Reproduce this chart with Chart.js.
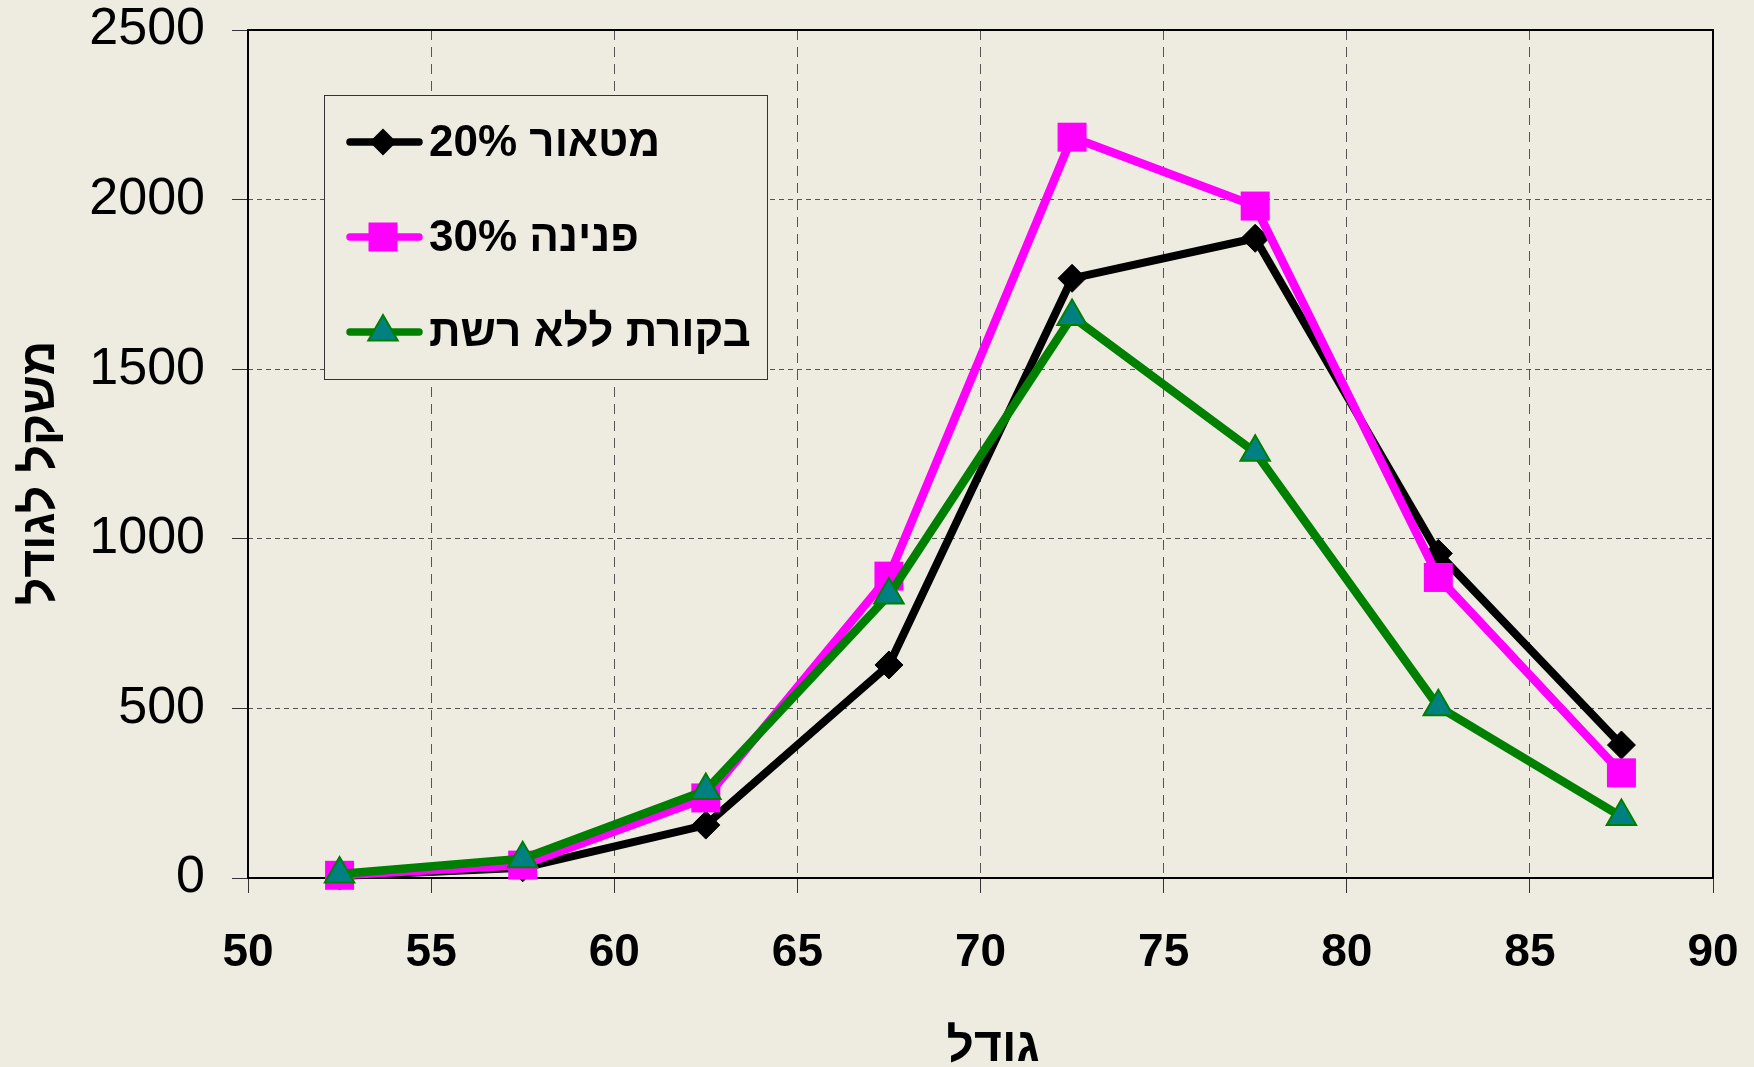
<!DOCTYPE html>
<html>
<head>
<meta charset="utf-8">
<script src="https://cdn.jsdelivr.net/npm/chart.js@4.4.1/dist/chart.umd.min.js"></script>
<style>
  html, body { margin: 0; padding: 0; background: #eeece1; }
  #wrap { width: 1754px; height: 1067px; }
</style>
</head>
<body>
<div id="wrap"><canvas id="sizeChart" width="1754" height="1067"></canvas></div>
<script>
// size classes (x) and weight per size class for each treatment
const sizes = [52.5, 57.5, 62.5, 67.5, 72.5, 77.5, 82.5, 87.5];
const meteor20 = [6, 30, 156, 628, 1768, 1886, 957, 392];
const pnina30 = [8, 38, 236, 890, 2184, 1981, 886, 310];
const controlNoNet = [12, 57, 258, 834, 1655, 1255, 505, 181];
const seriesNames = ["מטאור 20%", "פנינה 30%", "בקורת ללא רשת"];
const xTicks = [50, 55, 60, 65, 70, 75, 80, 85, 90];
const yTicks = [0, 500, 1000, 1500, 2000, 2500];
const xTitle = "גודל";
const yTitle = "משקל לגודל";

const FONT = "'Liberation Sans', Arial, sans-serif";
const BG = "#eeece1";

function toPoints(vals) {
  return sizes.map((x, i) => ({ x: x, y: vals[i] }));
}

function drawMarker(ctx, style, x, y) {
  ctx.save();
  if (style === "diamond") {
    const r = 13.5;
    ctx.fillStyle = "#000";
    ctx.beginPath();
    ctx.moveTo(x, y - r); ctx.lineTo(x + r, y); ctx.lineTo(x, y + r); ctx.lineTo(x - r, y);
    ctx.closePath();
    ctx.fill();
  } else if (style === "square") {
    ctx.fillStyle = "#ff00ff";
    ctx.fillRect(x - 14.5, y - 14.5, 29, 29);
  } else {
    const r = 17;
    ctx.fillStyle = "#008080";
    ctx.strokeStyle = "#008000";
    ctx.lineWidth = 2;
    ctx.beginPath();
    ctx.moveTo(x, y - r);
    ctx.lineTo(x + r * 0.866, y + r * 0.5);
    ctx.lineTo(x - r * 0.866, y + r * 0.5);
    ctx.closePath();
    ctx.fill();
    ctx.stroke();
  }
  ctx.restore();
}

const bgPlugin = {
  id: "bg",
  beforeDraw(chart) {
    const ctx = chart.ctx;
    ctx.save();
    ctx.fillStyle = BG;
    ctx.fillRect(0, 0, chart.width, chart.height);
    ctx.restore();
  }
};

const framePlugin = {
  id: "frame",
  beforeDatasetsDraw(chart) {
    const { ctx, chartArea: a } = chart;
    ctx.save();
    ctx.strokeStyle = "#000";
    ctx.lineWidth = 2;
    ctx.strokeRect(a.left, a.top, a.right - a.left, a.bottom - a.top);
    ctx.restore();
  }
};

// axis titles placed where they sit in the original
const titlePlugin = {
  id: "axisTitles",
  afterDraw(chart) {
    const ctx = chart.ctx;
    ctx.save();
    ctx.fillStyle = "#000";
    ctx.font = "bold 48px " + FONT;
    ctx.textAlign = "center";
    ctx.textBaseline = "alphabetic";
    ctx.fillText(xTitle, 993, 1061);
    ctx.translate(54, 473);
    ctx.rotate(-Math.PI / 2);
    ctx.fillText(yTitle, 0, 0);
    ctx.restore();
  }
};

const legendPlugin = {
  id: "boxLegend",
  afterDatasetsDraw(chart) {
    const ctx = chart.ctx;
    const bx = 324, by = 95, bw = 443, bh = 284;
    const colors = ["#000000", "#ff00ff", "#008000"];
    const markers = ["diamond", "square", "triangle"];
    ctx.save();
    ctx.fillStyle = BG;
    ctx.fillRect(bx, by, bw, bh);
    ctx.strokeStyle = "#333";
    ctx.lineWidth = 1;
    ctx.strokeRect(bx + 0.5, by + 0.5, bw, bh);
    seriesNames.forEach((name, i) => {
      const y = by + 47 + i * 95;
      ctx.strokeStyle = colors[i];
      ctx.lineWidth = 7.5;
      ctx.lineCap = "round";
      ctx.beginPath();
      ctx.moveTo(bx + 26, y);
      ctx.lineTo(bx + 95, y);
      ctx.stroke();
      drawMarker(ctx, markers[i], bx + 59, y);
      ctx.fillStyle = "#000";
      ctx.font = "bold 44px " + FONT;
      ctx.direction = "rtl";
      ctx.textAlign = "left";
      ctx.textBaseline = "middle";
      ctx.fillText(name, bx + 105, y + 2);
    });
    ctx.restore();
  }
};

const ctx = document.getElementById("sizeChart").getContext("2d");
new Chart(ctx, {
  type: "line",
  data: {
    datasets: [
      {
        label: seriesNames[0],
        data: toPoints(meteor20),
        borderColor: "#000000",
        borderWidth: 8,
        borderJoinStyle: "round",
        pointStyle: "rectRot",
        pointRadius: 14,
        pointBackgroundColor: "#000000",
        pointBorderColor: "#000000",
        pointBorderWidth: 1,
        order: 3,
        clip: false
      },
      {
        label: seriesNames[1],
        data: toPoints(pnina30),
        borderColor: "#ff00ff",
        borderWidth: 8.5,
        borderJoinStyle: "round",
        pointStyle: "rect",
        pointRadius: 20.5,
        pointBackgroundColor: "#ff00ff",
        pointBorderColor: "#ff00ff",
        pointBorderWidth: 0,
        order: 2,
        clip: false
      },
      {
        label: seriesNames[2],
        data: toPoints(controlNoNet),
        borderColor: "#008000",
        borderWidth: 8.5,
        borderJoinStyle: "round",
        pointStyle: "triangle",
        pointRadius: 17,
        pointBackgroundColor: "#008080",
        pointBorderColor: "#008000",
        pointBorderWidth: 2,
        order: 1,
        clip: false
      }
    ]
  },
  options: {
    responsive: false,
    animation: false,
    devicePixelRatio: 1,
    layout: { padding: { top: 30, right: 41, left: 0, bottom: 0 } },
    plugins: {
      legend: { display: false },
      tooltip: { enabled: false }
    },
    scales: {
      x: {
        type: "linear",
        min: 50,
        max: 90,
        afterBuildTicks: (s) => { s.ticks = xTicks.map((v) => ({ value: v })); },
        afterFit: (s) => {
          s.height = 189;
          s.paddingLeft = 0; s.paddingRight = 0; s.paddingTop = 0; s.paddingBottom = 0;
        },
        ticks: {
          color: "#000",
          font: { family: FONT, size: 46, weight: "bold" },
          padding: 33,
          maxRotation: 0,
          autoSkip: false,
          callback: (v) => String(v)
        },
        grid: {
          color: "#555",
          lineWidth: 1,
          tickLength: 15,
          tickColor: "#333",
          tickWidth: 1,
          tickBorderDash: []
        },
        border: { display: false, dash: [10, 7] },
        title: { display: false }
      },
      y: {
        type: "linear",
        min: 0,
        max: 2500,
        afterBuildTicks: (s) => { s.ticks = yTicks.map((v) => ({ value: v })); },
        afterFit: (s) => {
          s.width = 248;
          s.paddingLeft = 0; s.paddingRight = 0; s.paddingTop = 0; s.paddingBottom = 0;
        },
        ticks: {
          color: "#000",
          font: { family: FONT, size: 52 },
          padding: 27,
          callback: (v) => String(v)
        },
        grid: {
          color: "#555",
          lineWidth: 1,
          tickLength: 16,
          tickColor: "#333",
          tickWidth: 1,
          tickBorderDash: []
        },
        border: { display: false, dash: [5, 4] },
        title: { display: false }
      }
    }
  },
  plugins: [bgPlugin, framePlugin, legendPlugin, titlePlugin]
});
</script>
</body>
</html>
